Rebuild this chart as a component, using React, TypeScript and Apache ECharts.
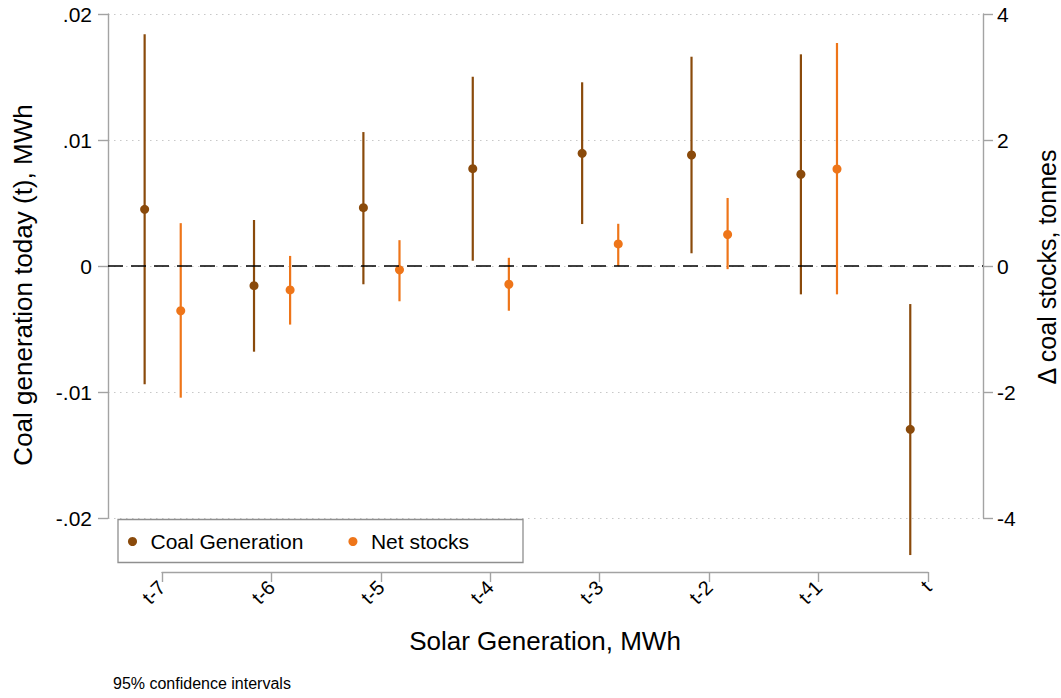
import React, { useEffect, useRef } from "react";
import * as echarts from "echarts";

// ---- Data ----
const lagValues = [-7, -6, -5, -4, -3, -2, -1, 0];
const lagLabels = ["t-7", "t-6", "t-5", "t-4", "t-3", "t-2", "t-1", "t"];

// Coal generation today (t), MWh — left axis
const coalEst = [0.0045, -0.00156, 0.00463, 0.00772, 0.00894, 0.00881, 0.00728, -0.01296];
const coalLo = [-0.00939, -0.0068, -0.00145, 0.00042, 0.00333, 0.00101, -0.00225, -0.02294];
const coalHi = [0.01839, 0.00365, 0.01063, 0.01502, 0.01458, 0.01661, 0.0168, -0.00302];

// Δ coal stocks, tonnes — right axis (no estimate at t)
const netEst = [-0.71, -0.38, -0.06, -0.29, 0.35, 0.5, 1.54, null];
const netLo = [-2.09, -0.93, -0.56, -0.71, 0.0, -0.05, -0.45, null];
const netHi = [0.68, 0.16, 0.41, 0.13, 0.67, 1.08, 3.54, null];

const leftTicks = [-0.02, -0.01, 0, 0.01, 0.02];
const rightTicks = [-4, -2, 0, 2, 4];

const COAL = "#8a4a0b";
const NET = "#ee7519";
const AXIS = "#a3a3a3";
const FONT = "'Liberation Sans', Arial, Helvetica, sans-serif";
const DODGE = 0.165;

function fmtLeft(v: number) {
  if (Math.abs(v) < 1e-12) return "0";
  const s = (Math.round(v * 100) / 100).toFixed(2);
  return s.replace(/^(-?)0\./, "$1.");
}

export default function App() {
  const ref = useRef<HTMLDivElement>(null);

  useEffect(() => {
    if (!ref.current) return;
    const chart = echarts.init(ref.current, null, { renderer: "svg" });

    const coalPts = lagValues.map((l, i) => [l - DODGE, coalEst[i]]);
    const coalCI = lagValues.map((l, i) => [l - DODGE, coalLo[i], coalHi[i]]);
    const netPts = lagValues
      .map((l, i) => [l + DODGE, netEst[i]])
      .filter((d) => d[1] !== null);
    const netCI = lagValues
      .map((l, i) => [l + DODGE, netLo[i], netHi[i]])
      .filter((d) => d[1] !== null);

    const ciRender = (color: string) => (params: any, api: any) => {
      const x = api.value(0);
      const p1 = api.coord([x, api.value(1)]);
      const p2 = api.coord([x, api.value(2)]);
      return {
        type: "line",
        shape: { x1: p1[0], y1: p1[1], x2: p2[0], y2: p2[1] },
        style: { stroke: color, lineWidth: 2.2 },
      };
    };

    const option: any = {
      animation: false,
      textStyle: { fontFamily: FONT },
      grid: [
        { left: 108, top: 14, width: 875, height: 504 },
        { left: 162, top: 562, width: 766, height: 10 },
      ],
      xAxis: [
        { type: "value", gridIndex: 0, min: -7.5, max: 0.5, show: false },
        {
          type: "value",
          gridIndex: 1,
          position: "bottom",
          min: -7,
          max: 0,
          interval: 1,
          axisLine: { show: true, onZero: false, lineStyle: { color: AXIS, width: 1.4 } },
          axisTick: { show: true, length: 10, lineStyle: { color: AXIS, width: 1.4 } },
          splitLine: { show: false },
          axisLabel: {
            rotate: 45,
            margin: 12,
            fontSize: 20,
            color: "#000",
            fontFamily: FONT,
            formatter: (v: number) => {
              const idx = lagValues.indexOf(Math.round(v));
              return idx >= 0 ? lagLabels[idx] : "";
            },
          },
        },
      ],
      yAxis: [
        {
          type: "value",
          gridIndex: 0,
          position: "left",
          min: leftTicks[0],
          max: leftTicks[leftTicks.length - 1],
          interval: 0.01,
          axisLine: { show: true, onZero: false, lineStyle: { color: AXIS, width: 1.4 } },
          axisTick: { show: true, length: 10, lineStyle: { color: AXIS, width: 1.4 } },
          axisLabel: { margin: 16, fontSize: 21, color: "#000", fontFamily: FONT, formatter: fmtLeft },
          splitLine: { show: true, lineStyle: { color: "#c8c8c8", type: [1.5, 4.5], width: 1.2 } },
        },
        {
          type: "value",
          gridIndex: 0,
          position: "right",
          min: rightTicks[0],
          max: rightTicks[rightTicks.length - 1],
          interval: 2,
          axisLine: { show: true, onZero: false, lineStyle: { color: AXIS, width: 1.4 } },
          axisTick: { show: true, length: 10, lineStyle: { color: AXIS, width: 1.4 } },
          axisLabel: { margin: 14, fontSize: 21, color: "#000", fontFamily: FONT },
          splitLine: { show: false },
        },
        { type: "value", gridIndex: 1, show: false, min: 0, max: 1 },
      ],
      legend: {
        data: ["Coal Generation", "Net stocks"],
        left: 128,
        top: 531,
        padding: 0,
        icon: "circle",
        itemWidth: 26,
        itemHeight: 9,
        itemGap: 45,
        textStyle: { fontSize: 21, color: "#000", fontFamily: FONT },
        selectedMode: false,
      },
      graphic: [
        {
          type: "rect",
          shape: { x: 118, y: 519.5, width: 405, height: 43 },
          style: { fill: "none", stroke: "#8f8f8f", lineWidth: 1.3 },
          z: 10,
        },
        {
          type: "text",
          x: 23,
          y: 285,
          rotation: Math.PI / 2,
          style: {
            text: "Coal generation today (t), MWh",
            font: `26px ${FONT}`,
            fill: "#000",
            textAlign: "center",
            textVerticalAlign: "middle",
          },
        },
        {
          type: "text",
          x: 1047,
          y: 267,
          rotation: Math.PI / 2,
          style: {
            text: "Δ coal stocks, tonnes",
            font: `25px ${FONT}`,
            fill: "#000",
            textAlign: "center",
            textVerticalAlign: "middle",
          },
        },
        {
          type: "text",
          x: 545,
          y: 641,
          style: {
            text: "Solar Generation, MWh",
            font: `26px ${FONT}`,
            fill: "#000",
            textAlign: "center",
            textVerticalAlign: "middle",
          },
        },
        {
          type: "text",
          x: 113,
          y: 683,
          style: {
            text: "95% confidence intervals",
            font: `16px ${FONT}`,
            fill: "#000",
            textAlign: "left",
            textVerticalAlign: "middle",
          },
        },
      ],
      series: [
        {
          name: "Coal CI",
          type: "custom",
          xAxisIndex: 0,
          yAxisIndex: 0,
          renderItem: ciRender(COAL),
          encode: { x: 0, y: [1, 2] },
          data: coalCI,
          z: 2,
        },
        {
          name: "Net CI",
          type: "custom",
          xAxisIndex: 0,
          yAxisIndex: 1,
          renderItem: ciRender(NET),
          encode: { x: 0, y: [1, 2] },
          data: netCI,
          z: 2,
        },
        {
          name: "Coal Generation",
          type: "scatter",
          xAxisIndex: 0,
          yAxisIndex: 0,
          symbol: "circle",
          symbolSize: 9,
          itemStyle: { color: COAL, opacity: 1 },
          data: coalPts,
          z: 3,
          markLine: {
            silent: true,
            symbol: "none",
            label: { show: false },
            lineStyle: { color: "#000", type: [15, 8], width: 1.6 },
            data: [{ yAxis: 0 }],
          },
        },
        {
          name: "Net stocks",
          type: "scatter",
          xAxisIndex: 0,
          yAxisIndex: 1,
          symbol: "circle",
          symbolSize: 9,
          itemStyle: { color: NET, opacity: 1 },
          data: netPts,
          z: 3,
        },
      ],
    };

    chart.setOption(option);
    return () => chart.dispose();
  }, []);

  return (
    <div
      ref={ref}
      style={{ position: "fixed", left: 0, top: 0, width: 1061, height: 698, background: "#fff" }}
    />
  );
}
